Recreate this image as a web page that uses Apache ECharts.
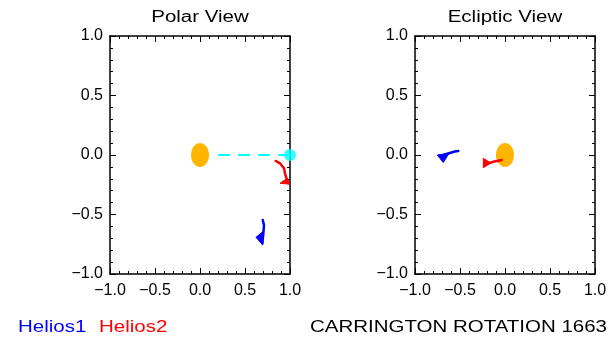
<!DOCTYPE html>
<html>
<head>
<meta charset="utf-8">
<script src="https://cdn.jsdelivr.net/npm/echarts@6/dist/echarts.min.js"></script>
<style>
  html, body { margin: 0; padding: 0; background: #fff; }
  #chart { width: 611px; height: 340px; }
</style>
</head>
<body>
<div id="chart"></div>
<script>
// Axis range and tick spacing (AU)
const axisMin = -1.0;
const axisMax = 1.0;
const majorStep = 0.5;

// Sun at origin, drawn as a disc of this radius (AU)
const sunCentre = [[0, 0]];
const sunRadius = 0.1;

// Polar view: Earth and the Sun-Earth line
const earthPolar = [[1.0, 0.0]];
const sunEarthLine = [[0.2, 0.0], [1.0, 0.0]];

// Polar view trajectories
const helios1Polar = [[0.697, -0.546], [0.711, -0.588], [0.704, -0.658], [0.693, -0.742]];
const helios1PolarHead = [0.622, -0.692, 0.697, -0.644, 0.697, -0.756];
const helios2Polar = [[0.841, -0.050], [0.889, -0.070], [0.933, -0.112], [0.944, -0.154], [0.963, -0.202], [0.981, -0.238]];
const helios2PolarHead = [0.889, -0.238, 0.970, -0.196, 0.992, -0.244];

// Ecliptic view trajectories
const helios1Ecliptic = [[-0.519, 0.034], [-0.556, 0.029], [-0.633, 0.013], [-0.686, 0.000]];
const helios1EclipticHead = [-0.752, 0.000, -0.622, 0.013, -0.686, -0.063];
const helios2Ecliptic = [[-0.037, -0.042], [-0.130, -0.056], [-0.167, -0.067], [-0.222, -0.063]];
const helios2EclipticHead = [-0.241, -0.028, -0.241, -0.107, -0.156, -0.067];

// Text
const panelTitles = ['Polar View', 'Ecliptic View'];
const spacecraftNames = ['Helios1', 'Helios2'];
const rotationLabel = 'CARRINGTON ROTATION 1663';

const BLUE = '#0000ff';
const RED = '#ff0000';
const CYAN = '#00ffff';
const SUN = '#ffb400';
const FONT = 'Liberation Sans';

const fmt = v => (v < 0 ? '\u2212' : '') + Math.abs(v).toFixed(1);

function makeAxis(kind, gridIndex, position, labelled) {
  return {
    type: 'value',
    gridIndex: gridIndex,
    position: position,
    min: axisMin,
    max: axisMax,
    interval: majorStep,
    axisLine: { show: true, onZero: false, lineStyle: { color: '#000', width: 1.5 } },
    axisTick: { show: true, inside: true, length: 6, lineStyle: { color: '#000', width: 1 } },
    minorTick: { show: true, splitNumber: 5, length: 3, lineStyle: { color: '#000', width: 1 } },
    splitLine: { show: false },
    minorSplitLine: { show: false },
    axisLabel: {
      show: labelled,
      formatter: fmt,
      color: '#000',
      fontFamily: FONT,
      fontSize: 16,
      margin: kind === 'x' ? 9 : 7
    }
  };
}

const grids = [
  { left: 110, top: 36, width: 180, height: 238 },
  { left: 415, top: 36, width: 180, height: 238 }
];

const xAxes = [
  makeAxis('x', 0, 'bottom', true), makeAxis('x', 1, 'bottom', true),
  makeAxis('x', 0, 'top', false), makeAxis('x', 1, 'top', false)
];
const yAxes = [
  makeAxis('y', 0, 'left', true), makeAxis('y', 1, 'left', true),
  makeAxis('y', 0, 'right', false), makeAxis('y', 1, 'right', false)
];

function sunSeries(g) {
  return {
    type: 'custom',
    xAxisIndex: g, yAxisIndex: g,
    silent: true,
    data: sunCentre,
    renderItem: (params, api) => {
      const c = api.coord([api.value(0), api.value(1)]);
      const s = api.size([sunRadius, sunRadius]);
      return { type: 'ellipse', shape: { cx: c[0], cy: c[1], rx: s[0], ry: s[1] }, style: { fill: SUN } };
    }
  };
}

function pathSeries(g, data, color) {
  return {
    type: 'line',
    xAxisIndex: g, yAxisIndex: g,
    data: data,
    symbol: 'none',
    silent: true,
    lineStyle: { color: color, width: 2.5, cap: 'round', join: 'round' }
  };
}

function headSeries(g, tri, color) {
  return {
    type: 'custom',
    xAxisIndex: g, yAxisIndex: g,
    silent: true,
    data: [tri],
    encode: { x: [0, 2, 4], y: [1, 3, 5] },
    renderItem: (params, api) => {
      const pts = [0, 2, 4].map(i => api.coord([api.value(i), api.value(i + 1)]));
      return { type: 'polygon', shape: { points: pts }, style: { fill: color, stroke: color, lineWidth: 1 } };
    }
  };
}

function caption(text, x, y, color, align) {
  return {
    type: 'text',
    x: x, y: y,
    scaleX: 1.28,
    style: {
      text: text, fill: color, font: '16px "' + FONT + '"',
      align: align, verticalAlign: 'middle'
    }
  };
}

const chart = echarts.init(document.getElementById('chart'), null, { renderer: 'canvas' });
chart.setOption({
  animation: false,
  backgroundColor: '#ffffff',
  grid: grids,
  xAxis: xAxes,
  yAxis: yAxes,
  series: [
    sunSeries(0),
    {
      type: 'line', xAxisIndex: 0, yAxisIndex: 0, silent: true,
      data: sunEarthLine, symbol: 'none',
      lineStyle: { color: CYAN, width: 2, type: [12, 8] }
    },
    {
      type: 'scatter', xAxisIndex: 0, yAxisIndex: 0, silent: true,
      data: earthPolar, symbol: 'circle', symbolSize: 12,
      itemStyle: { color: CYAN }
    },
    pathSeries(0, helios2Polar, RED),
    headSeries(0, helios2PolarHead, RED),
    pathSeries(0, helios1Polar, BLUE),
    headSeries(0, helios1PolarHead, BLUE),

    sunSeries(1),
    pathSeries(1, helios1Ecliptic, BLUE),
    headSeries(1, helios1EclipticHead, BLUE),
    pathSeries(1, helios2Ecliptic, RED),
    headSeries(1, helios2EclipticHead, RED)
  ],
  graphic: [
    caption(panelTitles[0], 200, 18, '#000', 'center'),
    caption(panelTitles[1], 505, 18, '#000', 'center'),
    caption(spacecraftNames[0], 18, 328, BLUE, 'left'),
    caption(spacecraftNames[1], 99, 328, RED, 'left'),
    caption(rotationLabel, 607, 328, '#000', 'right')
  ]
});
</script>
</body>
</html>
